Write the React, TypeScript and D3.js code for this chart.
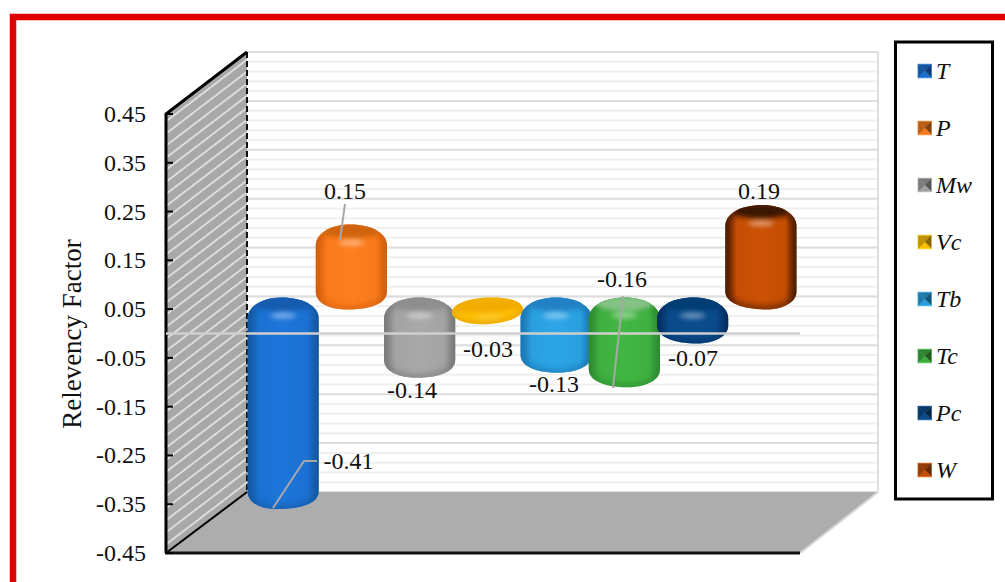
import React from "react";
import * as d3 from "d3";

const categories = ["T", "P", "Mw", "Vc", "Tb", "Tc", "Pc", "W"];
const values = [-0.41, 0.15, -0.14, -0.03, -0.13, -0.16, -0.07, 0.19];
const tickValues = [0.45, 0.35, 0.25, 0.15, 0.05, -0.05, -0.15, -0.25, -0.35, -0.45];
const valueLabels = ["-0.41", "0.15", "-0.14", "-0.03", "-0.13", "-0.16", "-0.07", "0.19"];
const axisTitle = "Relevency Factor";

// styles, kept apart from the data
const bodyColors = ["#1c71d2", "#f97a1c", "#a3a3a3", "#ffc000", "#2a9fdf", "#3fb040", "#0a4a8a", "#c44e04"];
const edgeColors = ["#14589f", "#d0600f", "#7a7a7a", "#d89400", "#1c76b0", "#2f8a30", "#052f60", "#4c1c00"];
const capColors = ["#125cae", "#cf6410", "#8e8e8e", "#f2aa00", "#2080c4", "#86c286", "#053c72", "#3a1400"];
const labelCentres: [number, number][] = [[348.5, 461], [345, 191], [412, 390], [488, 349], [554, 384], [622, 279], [693, 358], [759, 191]];
const labelAnchors = ["T", "P", "Tc"];
const leaders: Record<string, [number, number][]> = {
  T: [[317, 461], [304, 461], [273, 508]],
  P: [[345, 204], [340, 240]],
  Tc: [[623, 296], [613, 388]],
};

const W = 1005;
const H = 582;
const FONT = "'Liberation Serif', 'Times New Roman', serif";
const FS = 24;

const yFront = d3.scaleLinear().domain([-0.45, 0.45]).range([553, 114]);
const yWall = d3.scaleLinear().domain([-0.45, 0.45]).range([492, 52]);
const yBar = d3.scaleLinear().domain([-0.45, 0.45]).range([309.5 + 219, 309.5 - 219]);
const xBand = d3.scaleBand().domain(categories).range([249, 795]).padding(0);
const line = d3.line();

const wallMinor = d3.range(-45, 46, 2).map((d) => d / 100);
const wallMajor = d3.range(-45, 46, 10).map((d) => d / 100);

function silhouette(x0: number, x1: number, yt: number, yb: number, skew: number) {
  const cx = (x0 + x1) / 2;
  let s = yt + 9;
  let e = yb - 18;
  if (e < s) s = e = (yt - 12 + yb) / 2;
  const up = Math.min(s - (yt - 12), 21);
  const p = d3.path();
  p.moveTo(x0, s);
  p.bezierCurveTo(x0, s - up * 0.55, x0 + 14, yt - 12, cx + skew * 0.3, yt - 12);
  p.bezierCurveTo(x1 - 14, yt - 12, x1, s - up * 0.55, x1, s);
  p.lineTo(x1, e);
  p.bezierCurveTo(x1, yb - 6, x1 - 16, yb, cx + skew, yb);
  p.bezierCurveTo(x0 + 16 + skew * 0.5, yb, x0, yb - 6, x0, e);
  p.closePath();
  return p.toString();
}

function Bar({ i }: { i: number }) {
  const c = categories[i];
  const v = values[i];
  const x0 = xBand(c)! - 1.5;
  const x1 = x0 + xBand.bandwidth() + 3;
  const cx = (x0 + x1) / 2;
  const yt = yBar(Math.max(v, 0));
  const yb = yBar(Math.min(v, 0));
  const d = silhouette(x0, x1, yt, yb, (cx - 520) * 0.025);
  const flat = yb - yt < 20;
  const tilt = flat ? `rotate(-3 ${cx} ${(yt + yb) / 2})` : undefined;
  return (
    <g transform={tilt}>
      <clipPath id={`clip${i}`}><path d={d} /></clipPath>
      <path d={d} fill={flat ? bodyColors[i] : `url(#body${i})`} />
      <g clipPath={`url(#clip${i})`}>
        <path d={d} fill="none" stroke={edgeColors[i]} strokeWidth={flat ? 4 : 6} filter="url(#blur3)" opacity={0.8} />
        <ellipse cx={cx} cy={flat ? yt - 3 : yt - 6} rx={(x1 - x0) / 2 - (flat ? 3 : 7)} ry={flat ? 6 : 7.5} fill={capColors[i]} filter="url(#blur2)" />
        <ellipse cx={cx} cy={flat ? yb - 7 : yt + 6} rx={flat ? 15 : 13} ry={flat ? 2 : 3} fill="#ffffff" opacity={flat ? 0.25 : 0.42} filter="url(#blur2)" />
      </g>
    </g>
  );
}

function Swatch({ i, y }: { i: number; y: number }) {
  const x = 918;
  const s = 13.5;
  const cx = x + s / 2;
  const cy = y;
  const t = y - s / 2;
  const b = y + s / 2;
  const base = d3.color(bodyColors[i])!;
  const mid = base.darker(0.8).formatHex();
  const dark = base.darker(1.8).formatHex();
  const lite = base.darker(0.05).formatHex();
  const tri = (a: [number, number], e: [number, number]) => line([a, e, [cx, cy]])! + "Z";
  const piece = (pd: string, f: string) => <path d={pd} fill={f} stroke={f} strokeWidth={0.4} />;
  return (
    <g>
      {piece(tri([x, t], [x + s, t]), mid)}
      {piece(tri([x + s, t], [x + s, b]), dark)}
      {piece(tri([x + s, b], [x, b]), lite)}
      {piece(tri([x, b], [x, t]), mid)}
      <rect x={x} y={t} width={s} height={s} fill="none" stroke={base.brighter(0.6).formatHex()} strokeOpacity={0.45} strokeWidth={1} />
    </g>
  );
}

export default function App() {
  const wallPts: [number, number][] = [[166, 114], [247, 52], [247, 492], [166, 553]];
  const floorPts: [number, number][] = [[247, 492], [878, 492], [800, 553], [166, 553]];
  return (
    <svg width={W} height={H} viewBox={`0 0 ${W} ${H}`} style={{ position: "fixed", left: 0, top: 0, background: "#fff" }} fontFamily={FONT} fontSize={FS} fill="#111">
      <defs>
        <filter id="blur2" x="-50%" y="-100%" width="200%" height="300%"><feGaussianBlur stdDeviation="2.4" /></filter>
        <filter id="blur3" x="-20%" y="-20%" width="140%" height="140%"><feGaussianBlur stdDeviation="3" /></filter>
        <pattern id="hatch" width="40" height="9.6" patternUnits="userSpaceOnUse" patternTransform="rotate(-37.4 166 114)">
          <rect width="40" height="9.6" fill="#a8a8a8" />
          <rect y="4" width="40" height="1.5" fill="#ececec" />
        </pattern>
        {categories.map((_, i) => (
          <linearGradient key={i} id={`body${i}`} x1="0" x2="1" y1="0" y2="0">
            <stop offset="0" stopColor={edgeColors[i]} />
            <stop offset="0.16" stopColor={bodyColors[i]} />
            <stop offset="0.5" stopColor={d3.color(bodyColors[i])!.brighter(0.1).formatHex()} />
            <stop offset="0.84" stopColor={bodyColors[i]} />
            <stop offset="1" stopColor={edgeColors[i]} />
          </linearGradient>
        ))}
      </defs>

      {/* red frame */}
      <path d={line([[13, 582], [13, 17], [1005, 17]])!} fill="none" stroke="#e00000" strokeWidth={6.5} />

      {/* back wall grid */}
      {wallMinor.map((v) => (
        <line key={v} x1={247} x2={878} y1={yWall(v)} y2={yWall(v)} stroke="#efefef" strokeWidth={2} />
      ))}
      {wallMajor.map((v) => (
        <line key={v} x1={247} x2={878} y1={yWall(v)} y2={yWall(v)} stroke="#dedede" strokeWidth={2} />
      ))}
      <line x1={878} x2={878} y1={52} y2={492} stroke="#dedede" strokeWidth={2} />

      {/* floor */}
      <path d={line(floorPts)! + "Z"} fill="#adadad" />
      <line x1={878} y1={492} x2={800} y2={553} stroke="#d4d4d4" strokeWidth={2} />

      {/* side wall */}
      <path d={line(wallPts)! + "Z"} fill="url(#hatch)" />
      <line x1={247} x2={247} y1={52} y2={492} stroke="#111" strokeWidth={2} strokeDasharray="6 3" />
      <path d={line([[166, 553], [166, 114], [247, 52]])!} fill="none" stroke="#000" strokeWidth={3} />
      <line x1={166} y1={553} x2={247} y2={492} stroke="#000" strokeWidth={2} />
      <line x1={165} y1={553} x2={800} y2={553} stroke="#111" strokeWidth={3} />

      {/* axis ticks and labels */}
      {tickValues.map((v) => (
        <g key={v}>
          <line x1={166} x2={173} y1={yFront(v)} y2={yFront(v)} stroke="#000" strokeWidth={2} />
          <text x={146} y={yFront(v) + 8} textAnchor="end">{v.toFixed(2)}</text>
        </g>
      ))}
      <text transform="translate(81,334) rotate(-90)" textAnchor="middle" fontSize={27}>{axisTitle}</text>

      {/* bars */}
      {categories.map((_, i) => <Bar key={i} i={i} />)}

      {/* zero line */}
      <line x1={166} x2={800} y1={yFront(0)} y2={yFront(0)} stroke="#cfcfcf" strokeWidth={2.5} />

      {/* leaders */}
      {labelAnchors.map((k) => (
        <path key={k} d={line(leaders[k])!} fill="none" stroke="#a8a8a8" strokeWidth={2} />
      ))}

      {/* data labels */}
      {valueLabels.map((t, i) => (
        <text key={t + i} x={labelCentres[i][0]} y={labelCentres[i][1] + 8} textAnchor="middle">{t}</text>
      ))}

      {/* legend */}
      <rect x={895.5} y={42} width={97} height={457} fill="#fff" stroke="#000" strokeWidth={3} />
      {categories.map((c, i) => {
        const y = 71 + i * 57;
        return (
          <g key={c}>
            <Swatch i={i} y={y} />
            <text x={936} y={y + 8} fontStyle="italic">{c}</text>
          </g>
        );
      })}
    </svg>
  );
}
